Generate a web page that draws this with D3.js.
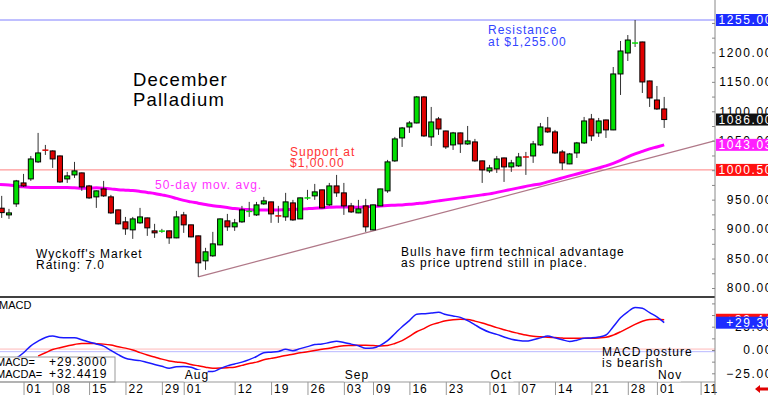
<!DOCTYPE html>
<html>
<head>
<meta charset="utf-8">
<script src="https://cdn.jsdelivr.net/npm/d3@7"></script>
<style>
  body { margin: 0; background: #fff; }
  svg { display: block; }
  text { font-family: "Liberation Sans", Arial, sans-serif; }
</style>
</head>
<body>
<svg width="768" height="395"></svg>
<script>
var width = 768;
var height = 395;
var plotRight = 715;

// daily candles, one per trading day (index 0 = Jun 26)
var opens = [935.5, 924.1, 942.8, 978.4, 985.2, 1014.1, 1034.4, 1032.7, 1024.2, 985.2,
  992.0, 995.4, 973.3, 954.7, 968.2, 954.7, 932.6, 912.3, 898.7, 910.6,
  919.0, 897.0, 896.1, 897.0, 885.1, 924.1, 907.2, 888.5, 846.1, 854.6,
  873.2, 914.0, 903.8, 912.3, 929.2, 924.1, 942.8, 946.2, 922.9, 920.7,
  944.5, 917.3, 952.5, 956.4, 966.6, 941.1, 973.3, 961.5, 939.4, 927.5,
  939.4, 898.7, 939.4, 964.9, 1015.8, 1054.8, 1073.4, 1080.2, 1124.4, 1056.5,
  1087.0, 1066.6, 1042.9, 1063.3, 1044.6, 1048.0, 1015.8, 998.8, 1002.2, 1020.8,
  1005.6, 1007.3, 1022.9, 1024.2, 1042.9, 1071.7, 1065.0, 1031.0, 1010.7, 1029.3,
  1046.3, 1087.0, 1063.3, 1085.3, 1068.4, 1163.4, 1199.0, 1215.5, 1217.7, 1151.5,
  1119.2, 1104.0];
var highs = [956.4, 934.3, 983.5, 993.7, 1024.2, 1063.3, 1042.9, 1033.6, 1025.0, 997.1,
  1014.1, 996.0, 975.0, 965.5, 981.8, 958.1, 933.0, 920.7, 920.7, 936.0,
  919.5, 908.9, 900.4, 897.5, 930.9, 929.2, 907.5, 889.0, 868.2, 895.3,
  918.0, 925.8, 917.3, 939.4, 946.2, 946.2, 954.7, 946.5, 939.4, 961.5,
  949.6, 953.5, 966.6, 976.7, 967.0, 978.4, 992.0, 978.4, 944.5, 949.6,
  951.3, 941.5, 968.5, 1017.5, 1056.5, 1073.4, 1083.6, 1126.0, 1126.0, 1107.4,
  1090.4, 1067.0, 1065.0, 1063.8, 1075.1, 1053.1, 1016.3, 1009.0, 1024.2, 1021.3,
  1017.5, 1029.3, 1031.0, 1049.7, 1080.2, 1090.4, 1068.4, 1034.4, 1029.3, 1048.0,
  1090.4, 1095.5, 1088.7, 1085.8, 1175.2, 1219.4, 1229.5, 1255.0, 1218.2, 1152.0,
  1143.0, 1124.4];
var lows = [919.0, 917.3, 937.7, 971.6, 981.8, 1012.4, 1025.9, 1003.9, 978.4, 978.4,
  986.9, 964.9, 951.3, 936.0, 954.7, 925.8, 908.0, 890.2, 883.4, 908.9,
  888.5, 885.1, 893.6, 874.9, 884.5, 893.6, 886.0, 818.9, 830.8, 852.9,
  872.5, 897.0, 897.0, 910.6, 920.7, 922.4, 941.1, 910.6, 910.6, 914.0,
  914.0, 917.0, 949.6, 949.6, 935.5, 939.4, 954.7, 924.1, 927.5, 927.0,
  895.3, 898.0, 939.0, 961.5, 1014.1, 1039.5, 1063.3, 1079.5, 1056.5, 1041.2,
  1059.9, 1036.1, 1034.4, 1029.3, 1042.9, 1014.1, 978.4, 995.4, 995.4, 980.1,
  997.1, 1005.6, 992.0, 1012.4, 1041.2, 1063.3, 1027.6, 1000.5, 1010.2, 1020.8,
  1044.6, 1049.7, 1056.5, 1054.8, 1068.0, 1127.7, 1185.4, 1209.2, 1131.1, 1107.4,
  1102.3, 1071.7];
var closes = [928.0, 927.5, 981.8, 973.3, 1019.1, 1029.3, 1033.6, 1019.1, 980.1, 990.3,
  998.8, 971.6, 953.0, 964.9, 956.4, 927.5, 908.9, 900.4, 917.3, 920.7,
  902.1, 893.6, 897.0, 885.1, 920.7, 907.2, 886.8, 842.7, 861.4, 874.9,
  917.3, 903.8, 910.6, 932.6, 930.9, 941.1, 947.9, 925.8, 921.9, 946.2,
  915.6, 953.0, 953.3, 963.2, 936.0, 973.3, 961.5, 939.4, 929.2, 934.3,
  903.8, 941.1, 968.2, 1014.1, 1053.1, 1071.7, 1080.2, 1124.4, 1058.2, 1081.9,
  1070.0, 1039.5, 1063.3, 1044.6, 1049.7, 1015.8, 1000.5, 1003.9, 1019.1, 1005.6,
  1012.4, 1022.5, 1022.0, 1044.6, 1073.4, 1065.0, 1029.3, 1012.4, 1027.6, 1046.3,
  1083.6, 1058.2, 1083.6, 1068.4, 1163.4, 1202.4, 1221.0, 1216.3, 1149.8, 1122.6,
  1104.0, 1086.0];

// 50-day moving average
var ma50 = [975.9, 975.0, 973.3, 971.7, 970.5, 970.5, 970.5, 970.5, 970.5, 970.5,
  970.0, 969.4, 969.4, 970.0, 969.4, 968.3, 966.9, 966.1, 965.4, 964.0,
  962.3, 960.6, 958.1, 955.5, 952.1, 948.7, 946.2, 944.0, 941.6, 939.8,
  938.2, 936.5, 934.8, 933.8, 933.1, 932.6, 932.6, 932.6, 932.6, 933.0,
  933.5, 933.8, 934.7, 935.5, 936.0, 936.9, 937.7, 937.7, 937.2, 936.9,
  937.7, 938.6, 939.4, 939.9, 940.6, 941.1, 942.0, 943.3, 944.5, 946.2,
  947.9, 949.6, 951.3, 953.0, 954.7, 956.4, 958.1, 959.8, 962.3, 964.9,
  967.4, 970.0, 972.5, 975.0, 976.7, 980.1, 983.5, 986.9, 990.3, 993.6,
  997.0, 1000.5, 1003.9, 1007.3, 1011.5, 1016.6, 1022.6, 1027.6, 1031.9, 1036.1,
  1039.5, 1043.03];

// MACD (blue) and its average (red)
var macd = [null, null, -9, -3, 4.5, 9.5, 13.5, 15, 13.5, 13.2,
  13.2, 11, 8.5, 6.5, 4.2, -0.5, -5, -8.9, -10.5, -11.4,
  -13.5, -15.5, -17.5, -19.6, -17.9, -17.8, -18.5, -21.4, -23, -23.2,
  -20, -17, -15, -13, -10.3, -7, -2.9, -2.3, -1.5, 0.7,
  -0.7, 1.5, 3.6, 5.8, 6.4, 8, 9.5, 8, 6.3, 4.6,
  1.8, 2.2, 5, 10, 17.5, 25, 31.5, 38.3, 39, 39.6,
  40.4, 38, 36.5, 35, 31.5, 27, 22.5, 19, 16.8, 14,
  11.5, 10.2, 9.6, 11, 13, 15, 13, 11, 9.2, 10.5,
  12.5, 13, 14, 16.1, 25, 34.5, 41, 45.5, 44.7, 40,
  35.5, 29.3];
var macdAvg = [null, null, null, null, null, -6.4, -3, 0.5, 2.5, 4.3,
  6, 7.1, 7.1, 6.8, 6.3, 5.3, 3.5, 2, 0, -2.8,
  -5.4, -7.5, -9.8, -11.7, -12.8, -13.8, -15.5, -17, -18.5, -19.6,
  -19.4, -19, -18.5, -16.5, -14.5, -13, -10.5, -9, -7.5, -5.8,
  -4.5, -3, -1.8, -0.5, 0.9, 2, 3.5, 4.6, 4.8, 5,
  5, 4.7, 4.3, 4.8, 7, 10, 14.5, 19.6, 23, 27,
  29.3, 31.3, 32.4, 32.9, 32.7, 31, 29, 26.5, 24, 21.8,
  19.6, 17.8, 16, 14.8, 14.2, 13.8, 13.3, 12.8, 12.5, 12.5,
  12.5, 12.6, 13, 13.6, 16, 19.5, 23.5, 27.5, 30.8, 32.7,
  33, 32.44];

// date axis
var tickIdx = [3, 7, 12, 17, 22, 25, 32, 37, 42, 47, 51, 56, 61, 67, 71, 76, 81, 86, 90, 96];
var tickLabels = ["01", "08", "15", "22", "29", "01", "12", "19", "26", "03", "09", "16", "23",
  "01", "07", "14", "21", "28", "01", "11"];
var monthIdx = [25, 47, 67, 90];
var monthLabels = ["Aug", "Sep", "Oct", "Nov"];

// price axis
var priceTicks = [800, 850, 900, 950, 1000, 1050, 1100, 1150, 1200];
var priceMinor = [800, 825, 850, 875, 900, 925, 950, 975, 1000, 1025, 1050, 1075, 1100, 1125, 1150, 1175, 1200, 1225, 1250];
var macdTicks = [-25, 0, 25];
var macdMinor = [-25, -12.5, 0, 12.5, 25, 37.5, 50];

// levels
var resistance = 1255.00;
var support = 1000.50;
var lastClose = 1086.00;
var lastMa = 1043.03;
var trendFrom = [27, 818.9];
var trendTo = [97.9, 1049.6];
var macdLast = 29.30;
var macdAvgLast = 32.44;
var macdZeroLines = [1, -1.8];

var svg = d3.select("svg");
var font = "'Liberation Sans', Arial, sans-serif";

var x = d3.scaleLinear().domain([0, 91]).range([1.7, 664.2]);
var y = d3.scaleLinear().domain([800, 1255]).range([288, 20]);
var ym = d3.scaleLinear().domain([-25, 0]).range([373.3, 350]);

function label(g, tx, ty, lines, color, size, gap) {
  var t = g.append("text")
    .attr("x", tx).attr("y", ty)
    .attr("fill", color)
    .attr("font-size", size)
    .attr("letter-spacing", size > 14 ? 1.2 : 1);
  lines.forEach(function(s, i) {
    t.append("tspan").attr("x", tx).attr("dy", i ? gap : 0).text(s);
  });
}

// horizontal levels
svg.append("line")
  .attr("x1", 0).attr("x2", plotRight)
  .attr("y1", y(resistance)).attr("y2", y(resistance))
  .attr("stroke", "#8080ff").attr("stroke-width", 1);
svg.append("line")
  .attr("x1", 0).attr("x2", plotRight)
  .attr("y1", y(support)).attr("y2", y(support))
  .attr("stroke", "#ff8080").attr("stroke-width", 1);

// trend line
svg.append("line")
  .attr("x1", x(trendFrom[0])).attr("y1", y(trendFrom[1]))
  .attr("x2", x(trendTo[0])).attr("y2", y(trendTo[1]))
  .attr("stroke", "#b07888").attr("stroke-width", 1.3);

// moving average
var maLine = d3.line()
  .x(function(d, i) { return i === 0 ? 0 : x(i); })
  .y(function(d) { return y(d); })
  .curve(d3.curveMonotoneX);
svg.append("path")
  .datum(ma50)
  .attr("d", maLine)
  .attr("fill", "none")
  .attr("stroke", "#ff00ff")
  .attr("stroke-width", 3);

// candles
var candles = opens.map(function(o, i) {
  return {i: i, o: o, h: highs[i], l: lows[i], c: closes[i]};
});
var cg = svg.append("g").selectAll("g").data(candles).enter().append("g");
cg.append("line")
  .attr("x1", function(d) { return x(d.i); })
  .attr("x2", function(d) { return x(d.i); })
  .attr("y1", function(d) { return y(d.h); })
  .attr("y2", function(d) { return y(d.l); })
  .attr("stroke", "#333").attr("stroke-width", 1);
cg.each(function(d) {
  var g = d3.select(this);
  var up = d.c >= d.o;
  var color = up ? "#00e000" : "#e00000";
  var top = y(Math.max(d.o, d.c));
  var bot = y(Math.min(d.o, d.c));
  if (bot - top < 1.5) {
    g.append("line")
      .attr("x1", x(d.i) - 3).attr("x2", x(d.i) + 3)
      .attr("y1", (top + bot) / 2).attr("y2", (top + bot) / 2)
      .attr("stroke", color).attr("stroke-width", 1.5);
  } else {
    g.append("rect")
      .attr("x", x(d.i) - 2.5).attr("width", 5)
      .attr("y", top).attr("height", bot - top)
      .attr("fill", color).attr("stroke", "#000").attr("stroke-width", 1);
  }
});

// annotations on price panel
label(svg, 133, 86, ["December", "Palladium"], "#000", 18.5, 20);
label(svg, 488, 34, ["Resistance", "at $1,255.00"], "#3344ff", 12, 12);
label(svg, 290, 156, ["Support at", "$1,00.00"], "#ff3333", 12, 11);
svg.append("text").attr("x", 155).attr("y", 189)
  .attr("fill", "#ff33ff").attr("font-size", 12).attr("letter-spacing", 1)
  .text("50-day mov. avg.");
label(svg, 36, 258, ["Wyckoff's Market", "Rating: 7.0"], "#000", 12, 11);
label(svg, 401, 256, ["Bulls have firm technical advantage", "as price uptrend still in place."], "#000", 12, 11);

// panel divider
svg.append("line")
  .attr("x1", 0).attr("x2", plotRight)
  .attr("y1", 297).attr("y2", 297)
  .attr("stroke", "#000").attr("stroke-width", 1.5);

// MACD panel
svg.selectAll(".zero").data(macdZeroLines).enter().append("line")
  .attr("x1", 0).attr("x2", plotRight)
  .attr("y1", function(d) { return ym(d); })
  .attr("y2", function(d) { return ym(d); })
  .attr("stroke", function(d, i) { return i ? "#b8b8ff" : "#ffb8b8"; })
  .attr("stroke-width", 1);

var macdLine = d3.line()
  .defined(function(d) { return d !== null; })
  .x(function(d, i) { return x(i); })
  .y(function(d) { return ym(d); })
  .curve(d3.curveMonotoneX);
svg.append("path").datum(macdAvg).attr("d", macdLine)
  .attr("fill", "none").attr("stroke", "#ff0000").attr("stroke-width", 1.5);
svg.append("path").datum(macd).attr("d", macdLine)
  .attr("fill", "none").attr("stroke", "#1a1aff").attr("stroke-width", 1.5);

svg.append("text").attr("x", -1).attr("y", 309)
  .attr("font-size", 11).text("MACD");
label(svg, 602, 356, ["MACD posture", "is bearish"], "#000", 12, 11);

// values box
svg.append("rect").attr("x", -1).attr("y", 357).attr("width", 116).attr("height", 25)
  .attr("fill", "#fff").attr("stroke", "#999");
[["MACD=", "+29.3000"], ["MACDA=", "+32.4419"]].forEach(function(r, i) {
  svg.append("text").attr("x", -4).attr("y", 366 + i * 12)
    .attr("font-size", 11).text(r[0]);
  svg.append("text").attr("x", 49).attr("y", 366 + i * 12)
    .attr("font-size", 12).attr("letter-spacing", 1).text(r[1]);
});

// date axis
svg.append("line")
  .attr("x1", 0).attr("x2", plotRight)
  .attr("y1", 382).attr("y2", 382)
  .attr("stroke", "#999");
var xAxis = d3.axisBottom(x)
  .tickValues(tickIdx)
  .tickSize(13)
  .tickFormat(function(d, i) { return tickLabels[i]; });
svg.append("g")
  .attr("transform", "translate(0,382)")
  .call(xAxis)
  .call(function(g) {
    g.select(".domain").remove();
    g.selectAll(".tick line").attr("stroke", "#999");
    g.selectAll("text")
      .attr("x", 2.5).attr("y", 2).attr("dy", "0.72em")
      .attr("text-anchor", "start")
      .attr("font-size", 12).attr("font-family", font)
      .attr("letter-spacing", 1).attr("fill", "#000");
  });

var mg = svg.append("g").selectAll("g").data(monthIdx).enter().append("g");
mg.append("rect")
  .attr("x", function(d) { return x(d); })
  .attr("y", 370).attr("width", 24).attr("height", 11.5)
  .attr("fill", "#fff");
mg.append("text")
  .attr("x", function(d) { return x(d) + 1; })
  .attr("y", 379)
  .attr("font-size", 12).attr("letter-spacing", 1)
  .text(function(d, i) { return monthLabels[i]; });

// right axis
svg.append("line")
  .attr("x1", plotRight).attr("x2", plotRight)
  .attr("y1", 0).attr("y2", height)
  .attr("stroke", "#888");
[[y, priceMinor], [ym, macdMinor]].forEach(function(a) {
  svg.append("g")
    .attr("transform", "translate(" + plotRight + ",0)")
    .call(d3.axisLeft(a[0]).tickValues(a[1]).tickSize(3).tickFormat(""))
    .call(function(g) {
      g.select(".domain").remove();
      g.selectAll("line").attr("stroke", "#888");
    });
});

function rightLabels(scale, ticks) {
  svg.append("g")
    .attr("transform", "translate(" + plotRight + ",0)")
    .call(d3.axisRight(scale).tickValues(ticks).tickSize(0).tickPadding(0).tickFormat(d3.format(".2f")))
    .call(function(g) {
      g.select(".domain").remove();
      g.selectAll("text")
        .attr("x", 58).attr("text-anchor", "end")
        .attr("font-size", 12).attr("font-family", font)
        .attr("letter-spacing", 1.6).attr("fill", "#000");
    });
}
rightLabels(y, priceTicks);
rightLabels(ym, macdTicks);

function tag(ty, value, bg) {
  svg.append("rect")
    .attr("x", plotRight + 1).attr("y", ty - 6).attr("width", width - plotRight).attr("height", 12)
    .attr("fill", bg);
  svg.append("text")
    .attr("x", plotRight + 58).attr("y", ty).attr("dy", "0.36em")
    .attr("text-anchor", "end")
    .attr("font-size", 12).attr("letter-spacing", 1.6).attr("fill", "#fff")
    .text(value);
}
tag(y(resistance), d3.format(".2f")(resistance), "#1c2cff");
tag(y(lastClose), d3.format(".2f")(lastClose), "#111");
tag(y(lastMa), d3.format(".2f")(lastMa), "#ff20ff");
tag(y(support), d3.format(".2f")(support), "#ff1010");
tag(ym(macdAvgLast), d3.format("+.2f")(macdAvgLast), "#ff1010");
tag(ym(macdLast), d3.format("+.2f")(macdLast), "#1c2cff");

// scroll arrow
svg.append("path")
  .attr("d", "M755,389 L760,385 L760,387.5 L768,387.5 L768,390.5 L760,390.5 L760,393 Z")
  .attr("fill", "#e00000");
</script>
</body>
</html>
